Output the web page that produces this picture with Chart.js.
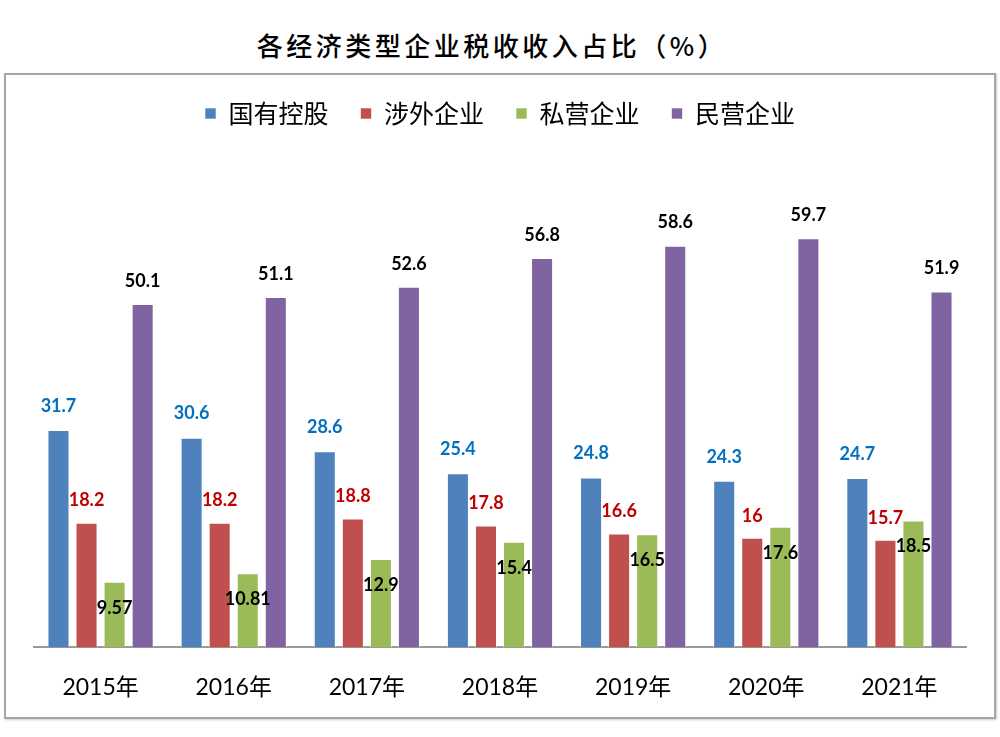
<!DOCTYPE html>
<html lang="zh">
<head>
  <meta charset="UTF-8">
  <title>各经济类型企业税收收入占比</title>
  <script src="https://cdn.jsdelivr.net/npm/chart.js"></script>
  <style>
    body {
      margin: 0;
      background: #fff;
      font-family: "Noto Sans CJK SC", sans-serif;
    }
    #title {
      position: absolute;
      left: 0;
      top: 26px;
      width: 984px;
      text-align: center;
      font-size: 26px;
      font-weight: 500;
      letter-spacing: 3.5px;
      color: #000;
    }
    #box {
      position: absolute;
      left: 4px;
      top: 73px;
      width: 988px;
      height: 642px;
      border: 2px solid #a6a6a6;
      box-shadow: 1px 1px 2px #ccc;
    }
    #wrap {
      position: absolute;
      left: 6px;
      top: 67px;
      width: 988px;
      height: 660px;
    }
  </style>
</head>
<body>
  <div id="title">各经济类型企业税收收入占比（%）</div>
  <div id="box"></div>
  <div id="wrap"><canvas id="taxChart"></canvas></div>

  <script>
    const years = ["2015年", "2016年", "2017年", "2018年", "2019年", "2020年", "2021年"];
    const seriesNames = ["国有控股", "涉外企业", "私营企业", "民营企业"];
    const stateOwned = [31.7, 30.6, 28.6, 25.4, 24.8, 24.3, 24.7];
    const foreign = [18.2, 18.2, 18.8, 17.8, 16.6, 16, 15.7];
    const privateOwned = [9.57, 10.81, 12.9, 15.4, 16.5, 17.6, 18.5];
    const nonState = [50.1, 51.1, 52.6, 56.8, 58.6, 59.7, 51.9];

    const barColors = ["#4f81bd", "#c0504d", "#9bbb59", "#8064a2"];
    const labelColors = ["#0070c0", "#c00000", "#000000", "#000000"];
    // distance of label centre above bar top (negative = inside bar)
    const labelOffsets = [24, 22, -26, 23];

    const valueLabels = {
      id: "valueLabels",
      afterDatasetsDraw(chart) {
        const ctx = chart.ctx;
        ctx.save();
        ctx.font = "bold 18px Lato, 'Noto Sans', sans-serif";
        ctx.textAlign = "center";
        ctx.textBaseline = "middle";
        chart.data.datasets.forEach((ds, i) => {
          const meta = chart.getDatasetMeta(i);
          meta.data.forEach((bar, j) => {
            ctx.fillStyle = labelColors[i];
            ctx.fillText(String(ds.data[j]), bar.x, bar.y - labelOffsets[i]);
          });
        });
        ctx.restore();
      }
    };

    const allSeries = [stateOwned, foreign, privateOwned, nonState];

    new Chart(document.getElementById("taxChart"), {
      type: "bar",
      data: {
        labels: years,
        datasets: allSeries.map((values, i) => ({
          label: seriesNames[i],
          data: values,
          backgroundColor: barColors[i],
          borderColor: "rgba(255,255,255,0.6)",
          borderWidth: 1,
          categoryPercentage: 0.843,
          barPercentage: 0.786
        }))
      },
      options: {
        responsive: true,
        maintainAspectRatio: false,
        animation: false,
        layout: {
          padding: { left: 28, right: 28, top: 2, bottom: 0 }
        },
        plugins: {
          legend: {
            position: "top",
            labels: {
              boxWidth: 11,
              boxHeight: 11,
              padding: 32,
              color: "#000",
              font: { family: "'Noto Sans CJK SC', sans-serif", size: 25 }
            }
          },
          tooltip: { enabled: false }
        },
        scales: {
          x: {
            grid: { display: false, drawTicks: false },
            border: { display: true, color: "#999", width: 2 },
            ticks: {
              color: "#000",
              padding: 26,
              font: { family: "Lato, 'Noto Sans CJK SC', sans-serif", size: 23 }
            }
          },
          y: {
            display: false,
            min: 0,
            max: 74.6
          }
        }
      },
      plugins: [valueLabels]
    });
  </script>
</body>
</html>
